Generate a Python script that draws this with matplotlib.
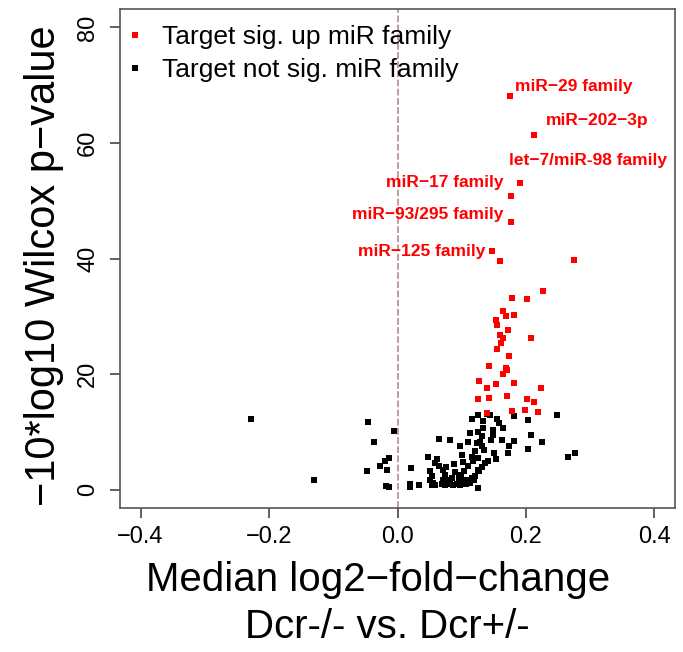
import matplotlib
matplotlib.use("Agg")
import matplotlib.pyplot as plt
from matplotlib.lines import Line2D

plt.rcParams['font.family'] = ['Liberation Sans', 'DejaVu Sans']

# miR families whose targets are significantly up
sig_x = [0.175, 0.212, 0.191, 0.177, 0.177, 0.147, 0.159, 0.274, 0.227, 0.202,
         0.178, 0.165, 0.169, 0.181, 0.154, 0.155, 0.172, 0.159, 0.164, 0.208,
         0.161, 0.155, 0.173, 0.143, 0.169, 0.170, 0.164, 0.127, 0.154, 0.181,
         0.140, 0.224, 0.126, 0.143, 0.170, 0.202, 0.212, 0.178, 0.199, 0.219,
         0.140]
sig_y = [68.1, 61.4, 53.0, 50.9, 46.4, 41.3, 39.5, 39.8, 34.3, 33.0,
         33.2, 30.9, 30.1, 30.3, 29.4, 28.4, 27.6, 26.7, 26.3, 26.3,
         25.3, 24.3, 23.1, 21.4, 21.1, 20.7, 20.0, 18.8, 18.2, 18.4,
         17.6, 17.5, 15.7, 15.9, 16.2, 15.7, 15.1, 13.6, 13.8, 13.4,
         13.3]

# miR families whose targets are not significantly changed
ns_x = [-0.228, -0.130, -0.046, -0.037, -0.005, -0.048, -0.027, -0.019, -0.013, -0.017,
        -0.018, -0.013,
        0.021, 0.019, 0.020, 0.034,
        0.047, 0.064, 0.082, 0.061, 0.065, 0.058, 0.051, 0.053, 0.051, 0.056, 0.059, 0.053,
        0.071, 0.076, 0.074, 0.071, 0.079, 0.082, 0.074, 0.087, 0.069,
        0.097, 0.100, 0.109, 0.113, 0.116, 0.126,
        0.095, 0.099, 0.105, 0.097, 0.113, 0.107, 0.120, 0.126, 0.131, 0.136, 0.126, 0.118,
        0.110, 0.104, 0.095, 0.126,
        0.133, 0.140, 0.144, 0.155, 0.158, 0.164, 0.149, 0.133, 0.181, 0.203, 0.248, 0.208,
        0.225, 0.203, 0.182, 0.174, 0.172, 0.149, 0.146, 0.162, 0.126, 0.131, 0.128, 0.124,
        0.131, 0.135, 0.121, 0.116, 0.151, 0.154, 0.141, 0.127, 0.116, 0.113, 0.119,
        0.266, 0.276, 0.090, 0.088, 0.092, 0.102, 0.085]
ns_y = [12.2, 1.6, 11.7, 8.2, 10.2, 3.2, 4.1, 4.9, 5.4, 3.4,
        0.6, 0.4,
        3.8, 0.5, 1.0, 0.7,
        5.6, 8.8, 8.6, 5.2, 4.1, 4.6, 3.2, 2.3, 1.7, 1.2, 0.7, 0.7,
        3.4, 3.9, 2.6, 1.7, 1.7, 0.9, 0.7, 0.7, 1.0,
        7.5, 6.0, 8.3, 9.8, 12.2, 12.9,
        2.3, 2.6, 1.7, 0.7, 1.7, 0.9, 2.3, 3.4, 3.9, 4.6, 5.5, 4.9,
        4.0, 3.2, 1.4, 0.3,
        11.8, 13.0, 12.9, 12.2, 11.6, 10.6, 10.3, 10.6, 12.8, 12.1, 12.9, 9.5,
        8.2, 7.0, 8.4, 7.5, 6.4, 9.5, 8.6, 8.6, 9.9, 9.2, 8.3, 8.0,
        7.5, 6.9, 6.6, 5.6, 6.4, 5.3, 4.9, 3.2, 2.0, 1.2, 1.7,
        5.7, 6.3, 3.0, 4.5, 1.0, 4.8, 2.0]

# labelled families: (name, index into sig arrays, label offset in pixels, alignment)
labels = [("miR\u221229 family", 0, (5, 10), "left"),
          ("miR\u2212202\u22123p", 1, (12, 14), "left"),
          ("let\u22127/miR-98 family", 2, (-11, 23), "left"),
          ("miR\u221217 family", 3, (-8, 13), "right"),
          ("miR\u221293/295 family", 4, (-8, 7), "right"),
          ("miR\u2212125 family", 5, (-7, -1), "right")]

fig = plt.figure(figsize=(6.83, 6.52), dpi=100)
ax = fig.add_axes([120 / 683, 1 - 508 / 652, 555 / 683, 499 / 652])

ax.axvline(0, color="#b48c8c", lw=1.2, ls=(0, (4, 1.5)), zorder=1)
ax.plot(ns_x, ns_y, ls="none", marker="s", ms=3.8, mew=0, color="black", zorder=2)
ax.plot(sig_x, sig_y, ls="none", marker="s", ms=3.8, mew=0, color="red", zorder=3)

for name, i, off, ha in labels:
    ax.annotate(name, (sig_x[i], sig_y[i]), xytext=off, textcoords="offset pixels",
                ha=ha, va="center", color="red", fontsize=12.5, fontweight="bold")

ax.set_xlim(-0.432, 0.432)
ax.set_ylim(-3.2, 83.2)
ax.set_xticks([-0.4, -0.2, 0.0, 0.2, 0.4])
ax.set_xticklabels(["\u22120.4", "\u22120.2", "0.0", "0.2", "0.4"])
ax.set_yticks([0, 20, 40, 60, 80])
ax.tick_params(axis="both", labelsize=17, length=7, width=1.2, color="#444444")
ax.tick_params(axis="x", pad=6)
ax.tick_params(axis="y", pad=8)
for lab in ax.get_yticklabels():
    lab.set_rotation(90)
    lab.set_va("center")
for s in ax.spines.values():
    s.set_color("#555555")
    s.set_linewidth(1.2)

ax.set_ylabel("\u221210*log10 Wilcox p\u2212value", fontsize=30)
ax.yaxis.set_label_coords(-0.1, 0.485)
fig.text(378 / 683, 1 - 580 / 652, "Median log2\u2212fold\u2212change",
         fontsize=29, ha="center", va="center")
fig.text(387 / 683, 1 - 627 / 652, "Dcr-/- vs. Dcr+/-",
         fontsize=29, ha="center", va="center")

handles = [Line2D([], [], ls="none", marker="s", ms=5, mew=0, color="red"),
           Line2D([], [], ls="none", marker="s", ms=5, mew=0, color="black")]
ax.legend(handles, ["Target sig. up miR family", "Target not sig. miR family"],
          loc="upper left", bbox_to_anchor=(0.013, 0.968), frameon=False,
          fontsize=19, handlelength=0.6, handletextpad=0.72, labelspacing=0.35,
          borderaxespad=0, borderpad=0)

fig.savefig("out.png", dpi=100)
